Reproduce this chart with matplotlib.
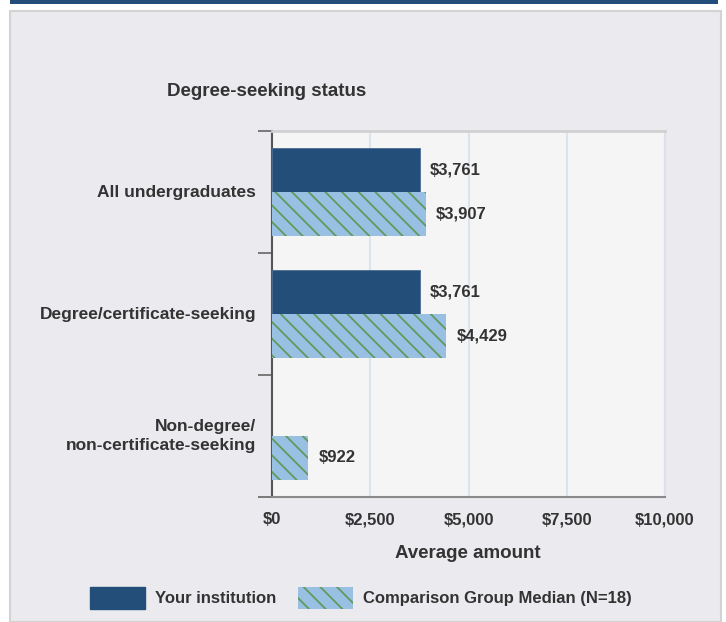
import matplotlib
matplotlib.use('Agg')
import matplotlib.pyplot as plt
from matplotlib.patches import Patch, Rectangle
import numpy as np

# data
categories = ['All undergraduates', 'Degree/certificate-seeking', 'Non-degree/\nnon-certificate-seeking']
your_inst = [3761, 3761, None]
comparison = [3907, 4429, 922]
x_ticks = [0, 2500, 5000, 7500, 10000]
series_names = ['Your institution', 'Comparison Group Median (N=18)']

dark_blue = '#234e79'
light_blue = '#99bfe2'
hatch_green = '#5e9b5f'
text_col = '#333333'

plt.rcParams['font.family'] = ['Liberation Sans', 'DejaVu Sans']
plt.rcParams['hatch.linewidth'] = 1.3

fig = plt.figure(figsize=(7.26, 6.22), dpi=100)
fig.patch.set_facecolor('white')

# panel background and top band
fig.patches.append(Rectangle((10 / 726, 0), 711 / 726, 611 / 622, transform=fig.transFigure,
                             facecolor='#ebebef', edgecolor='#d3d3d3', linewidth=1.5, zorder=-5))
fig.patches.append(Rectangle((10 / 726, 618 / 622), 708 / 726, 4 / 622, transform=fig.transFigure,
                             facecolor=dark_blue, edgecolor='none', zorder=-4))

ax = fig.add_axes([272 / 726, 1 - 497 / 622, (665 - 272) / 726, (497 - 131) / 622])
ax.set_facecolor('#f5f5f5')

y = np.arange(len(categories))
h = 0.36
for i in range(len(categories)):
    if your_inst[i] is not None:
        ax.barh(y[i] - h / 2, your_inst[i], height=h, color=dark_blue, edgecolor='#4a6d91',
                linewidth=0.6, zorder=3)
        ax.text(your_inst[i] + 260, y[i] - h / 2, '${:,}'.format(your_inst[i]), va='center',
                ha='left', fontsize=12, fontweight='bold', color=text_col)
    ax.barh(y[i] + h / 2, comparison[i], height=h, facecolor=light_blue, edgecolor=hatch_green,
            hatch='\\\\', linewidth=0, zorder=3)
    ax.text(comparison[i] + 260, y[i] + h / 2, '${:,}'.format(comparison[i]), va='center',
            ha='left', fontsize=12, fontweight='bold', color=text_col)

ax.set_xlim(0, 10000)
ax.set_ylim(2.5, -0.5)
ax.set_xticks(x_ticks)
ax.set_xticklabels(['${:,}'.format(v) for v in x_ticks], fontsize=12, fontweight='bold', color=text_col)
ax.tick_params(axis='x', length=0, pad=11)

ax.set_yticks([-0.5, 0.5, 1.5, 2.5])
ax.set_yticklabels([])
ax.tick_params(axis='y', length=10, width=1.2, color='#666666')
for i, c in enumerate(categories):
    ax.text(-0.04, y[i], c, transform=ax.get_yaxis_transform(),
            ha='right', va='center', fontsize=12.5, fontweight='bold', color=text_col,
            multialignment='right', linespacing=1.35)

ax.grid(axis='x', color='#dbe3ee', linewidth=1.5, zorder=0)
ax.set_axisbelow(True)
ax.spines['left'].set_color('#555555')
ax.spines['left'].set_linewidth(1.5)
ax.spines['bottom'].set_color('#8a8a8a')
ax.spines['bottom'].set_linewidth(1.5)
ax.spines['top'].set_color('#d0d0d0')
ax.spines['top'].set_linewidth(2)
ax.spines['right'].set_color('#dbe0ea')
ax.spines['right'].set_linewidth(1.5)

fig.text(167 / 726, 1 - 91 / 622, 'Degree-seeking status', ha='left', va='center',
         fontsize=13.5, fontweight='bold', color=text_col)
fig.text(468 / 726, 1 - 553 / 622, 'Average amount', ha='center', va='center',
         fontsize=13.5, fontweight='bold', color=text_col)

handles = [Patch(facecolor=dark_blue, edgecolor=dark_blue),
           Patch(facecolor=light_blue, edgecolor=hatch_green, hatch='\\\\', linewidth=0)]
leg = fig.legend(handles, series_names, loc='center', bbox_to_anchor=(361 / 726, 1 - 598 / 622),
                 ncol=2, frameon=False, handlelength=3.3, handleheight=1.7, columnspacing=1.3,
                 handletextpad=0.6, prop={'size': 12, 'weight': 'bold'})
for t in leg.get_texts():
    t.set_color(text_col)

plt.savefig('out.png', dpi=100)
